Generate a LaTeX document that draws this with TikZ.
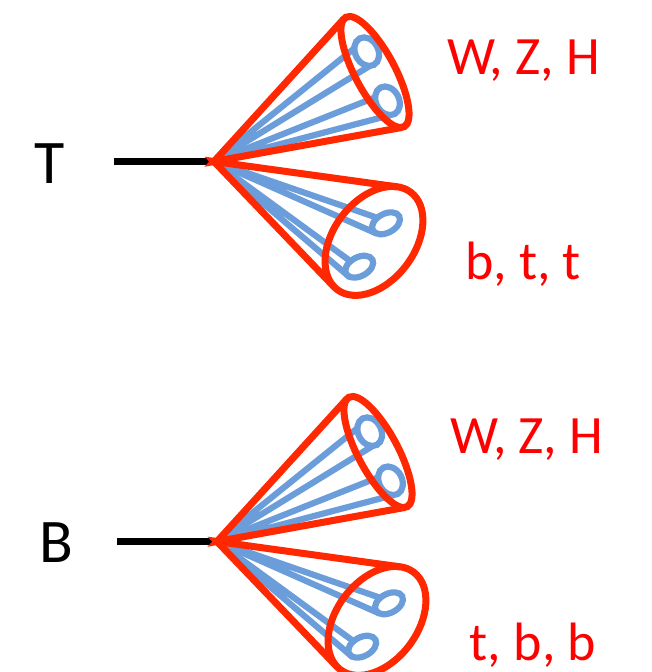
\documentclass[tikz,border=0pt]{standalone}
\usepackage{fontspec}
\setmainfont{Carlito}
\usetikzlibrary{calc}

\definecolor{conered}{RGB}{255,40,0}
\definecolor{jetblue}{RGB}{106,157,218}
\definecolor{labelred}{RGB}{255,0,0}

\tikzset{
  redline/.style={draw=conered, line width=7pt, line join=miter},
  blueline/.style={draw=jetblue, line width=6.2pt, line cap=round},
  stem/.style={draw=black, line width=7pt},
  decay/.style={text=labelred, inner sep=0pt, anchor=base,
    font=\fontsize{54}{60}\selectfont},
  particle/.style={text=black, inner sep=0pt, anchor=base,
    font=\fontsize{62}{70}\selectfont},
}

% Tangent points (#1a, #1b) from the point (#7,#8) to the ellipse with
% centre (#2,#3), semi-axes #4 and #5, tilted by #6 degrees.
\newcommand\tangentpair[8]{%
  \pgfmathsetmacro\tpU{((#7-#2)*cos(#6)+(#8-#3)*sin(#6))/#4}%
  \pgfmathsetmacro\tpV{(-(#7-#2)*sin(#6)+(#8-#3)*cos(#6))/#5}%
  \pgfmathsetmacro\tpA{atan2(\tpV,\tpU)}%
  \pgfmathsetmacro\tpB{acos(1/sqrt(\tpU*\tpU+\tpV*\tpV))}%
  \pgfmathsetmacro\tpXa{#2+#4*cos(\tpA+\tpB)*cos(#6)-#5*sin(\tpA+\tpB)*sin(#6)}%
  \pgfmathsetmacro\tpYa{#3+#4*cos(\tpA+\tpB)*sin(#6)+#5*sin(\tpA+\tpB)*cos(#6)}%
  \pgfmathsetmacro\tpXb{#2+#4*cos(\tpA-\tpB)*cos(#6)-#5*sin(\tpA-\tpB)*sin(#6)}%
  \pgfmathsetmacro\tpYb{#3+#4*cos(\tpA-\tpB)*sin(#6)+#5*sin(\tpA-\tpB)*cos(#6)}%
  \coordinate (#1a) at (\tpXa,\tpYa);
  \coordinate (#1b) at (\tpXb,\tpYb);
}

% One small jet ring: name, centre, tilt, semi-axes, angles where the
% tube lines meet it
\newcommand\jetring[8]{%
  \begin{scope}[shift={(#2,#3)}, rotate=#4]
    \coordinate (#1) at (0,0);
    \coordinate (#1a) at (#7:#5 and #6);
    \coordinate (#1b) at (#8:#5 and #6);
  \end{scope}
}

% A heavy quark with two decay cones
\newcommand\decaygroup{%
  \coordinate (V) at (214,510.5);
  \coordinate (L) at (114,510.5);
  \coordinate (C1) at (375,600);
  \coordinate (C2) at (374,431);
  \tangentpair{cu}{375}{600}{62}{20}{-62}{214}{510.5}
  \tangentpair{cd}{374}{431}{61}{40.5}{53}{214}{510.5}
  \jetring{R1}{366.7}{620.3}{-62}{15}{11.5}{234}{-21}
  \jetring{R2}{387.5}{571.2}{-62}{15}{11.5}{234}{-21}
  \jetring{R3}{386}{448.7}{28}{15}{9.5}{110}{205}
  \jetring{R4}{359.2}{405.3}{28}{15}{9.5}{110}{205}
  % incoming line
  \draw[stem] (L) -- (V);
  % jet tubes
  \foreach \r in {R1,R2,R3,R4}{
    \draw[blueline] (V) -- (\r a) (V) -- (\r b);
  }
  \foreach \r in {R1,R2}{
    \draw[blueline, rotate around={-62:(\r)}] (\r) ellipse [x radius=15, y radius=11.5];
  }
  \foreach \r in {R3,R4}{
    \draw[blueline, rotate around={28:(\r)}] (\r) ellipse [x radius=15, y radius=9.5];
  }
  % cones
  \draw[redline] (cua) -- (V) -- (cub);
  \draw[redline] (cda) -- (V) -- (cdb);
  \draw[redline, rotate around={-62:(C1)}] (C1) ellipse [x radius=62, y radius=20];
  \draw[redline, rotate around={53:(C2)}] (C2) ellipse [x radius=61, y radius=40.5];
}

\begin{document}
\begin{tikzpicture}[x=1pt, y=1pt]
  \useasboundingbox (0,0) rectangle (652,672);
  \clip (0,0) rectangle (652,672);

  % T quark
  \begin{scope}
    \decaygroup
  \end{scope}
  \node[particle] (T) at (50,488.7) {T};
  \node[decay] (tw) at (523.5,597.7) {W, Z, H};
  \node[decay] (tb) at (523,392) {b, t, t};

  % B quark
  \begin{scope}[shift={(3,-380)}]
    \decaygroup
  \end{scope}
  \node[particle] (B) at (56.7,109.3) {B};
  \node[decay] (bw) at (527,218.7) {W, Z, H};
  \node[decay] (bb) at (533,12) {t, b, b};
\end{tikzpicture}
\end{document}
